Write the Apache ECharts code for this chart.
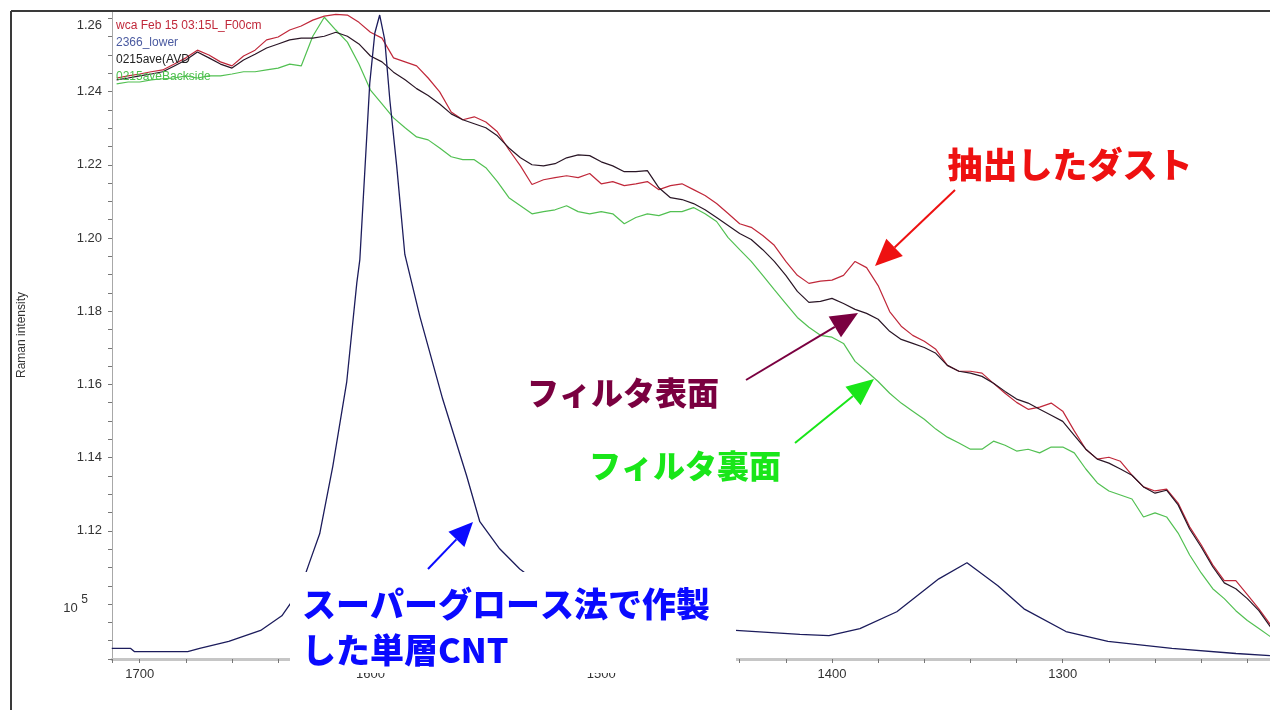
<!DOCTYPE html>
<html>
<head>
<meta charset="utf-8">
<script src="https://cdn.jsdelivr.net/npm/echarts@6/dist/echarts.min.js"></script>
<style>
  html, body { margin: 0; padding: 0; background: #fff; }
  #main { width: 1270px; height: 710px; }
</style>
</head>
<body>
<div id="main"></div>
<script>
// Raman spectra, x = Raman shift (cm-1)
var wavenumber = [
  1710,1705,1700,1695,1690,1685,1680,1675,1670,1665,
  1660,1655,1650,1645,1640,1635,1630,1625,1620,1615,
  1610,1605,1600,1595,1590,1585,1580,1575,1570,1565,
  1560,1555,1550,1545,1540,1535,1530,1525,1520,1515,
  1510,1505,1500,1495,1490,1485,1480,1475,1470,1465,
  1460,1455,1450,1445,1440,1435,1430,1425,1420,1415,
  1410,1405,1400,1395,1390,1385,1380,1375,1370,1365,
  1360,1355,1350,1345,1340,1335,1330,1325,1320,1315,
  1310,1305,1300,1295,1290,1285,1280,1275,1270,1265,
  1260,1255,1250,1245,1240,1235,1230,1225,1220,1215,
  1210
];
// 抽出したダスト (red)
var dust = [
  1.2437,1.2443,1.2448,1.2454,1.2459,1.2475,1.2492,1.2513,1.2500,1.2481,
  1.2470,1.2497,1.2513,1.2541,1.2549,1.2568,1.2579,1.2595,1.2606,1.2611,
  1.2609,1.2589,1.2562,1.2546,1.2492,1.2481,1.2470,1.2437,1.2399,1.2344,
  1.2323,1.2331,1.2317,1.2290,1.2241,1.2197,1.2146,1.2159,1.2165,1.2170,
  1.2165,1.2176,1.2148,1.2154,1.2143,1.2148,1.2154,1.2132,1.2143,1.2148,
  1.2132,1.2116,1.2094,1.2067,1.2039,1.2029,1.2007,1.1980,1.1936,1.1898,
  1.1876,1.1882,1.1885,1.1898,1.1936,1.1919,1.1870,1.1799,1.1759,1.1734,
  1.1718,1.1696,1.1652,1.1636,1.1636,1.1631,1.1603,1.1576,1.1551,1.1532,
  1.1538,1.1549,1.1527,1.1473,1.1423,1.1396,1.1401,1.1390,1.1352,1.1320,
  1.1309,1.1314,1.1276,1.1211,1.1162,1.1107,1.1064,1.1064,1.1026,1.0987,
  1.0944
];
// フィルタ表面 (black)
var front = [
  1.2432,1.2437,1.2443,1.2448,1.2454,1.2470,1.2486,1.2508,1.2492,1.2475,
  1.2464,1.2486,1.2502,1.2519,1.2530,1.2541,1.2546,1.2546,1.2551,1.2562,
  1.2551,1.2530,1.2497,1.2481,1.2453,1.2432,1.2408,1.2389,1.2366,1.2339,
  1.2323,1.2312,1.2301,1.2279,1.2246,1.2219,1.2200,1.2197,1.2203,1.2219,
  1.2227,1.2225,1.2208,1.2197,1.2181,1.2181,1.2184,1.2137,1.2110,1.2105,
  1.2094,1.2077,1.2056,1.2034,1.2012,1.1996,1.1968,1.1936,1.1898,1.1854,
  1.1824,1.1827,1.1835,1.1821,1.1805,1.1794,1.1778,1.1745,1.1723,1.1712,
  1.1701,1.1685,1.1652,1.1636,1.1631,1.1622,1.1603,1.1581,1.1560,1.1549,
  1.1532,1.1516,1.1499,1.1461,1.1423,1.1396,1.1385,1.1369,1.1352,1.1320,
  1.1303,1.1311,1.1271,1.1205,1.1156,1.1102,1.1058,1.1042,1.1015,1.0982,
  1.0938
];
// フィルタ裏面 (green)
var back = [
  1.2421,1.2426,1.2426,1.2432,1.2435,1.2437,1.2443,1.2437,1.2443,1.2443,
  1.2448,1.2454,1.2454,1.2459,1.2464,1.2475,1.2470,1.2551,1.2603,1.2568,
  1.2535,1.2475,1.2404,1.2366,1.2328,1.2301,1.2276,1.2268,1.2246,1.2222,
  1.2214,1.2214,1.2192,1.2154,1.2110,1.2088,1.2066,1.2072,1.2077,1.2088,
  1.2072,1.2066,1.2072,1.2066,1.2039,1.2056,1.2066,1.2061,1.2072,1.2072,
  1.2083,1.2066,1.2045,1.2001,1.1968,1.1936,1.1898,1.1859,1.1821,1.1783,
  1.1756,1.1734,1.1729,1.1712,1.1663,1.1636,1.1608,1.1576,1.1549,1.1527,
  1.1505,1.1478,1.1456,1.1440,1.1423,1.1423,1.1445,1.1434,1.1418,1.1423,
  1.1413,1.1429,1.1429,1.1413,1.1369,1.1331,1.1309,1.1298,1.1287,1.1238,
  1.1249,1.1238,1.1194,1.1134,1.1085,1.1042,1.1015,1.0982,1.0955,1.0933,
  1.0911
];
// スーパーグロース単層CNT (navy)
var cntWavenumber = [1712.1,1703.9,1702.2,1679.2,1674.0,1661.4,1647.6,1638.4,1633.2,1628.9,
  1626.3,1622.0,1616.3,1610.3,1605.9,1604.6,1600.3,1598.1,1596.0,1593.8,
  1591.6,1588.6,1585.1,1578.6,1568.7,1558.3,1552.6,1544.0,1535.3,1518.1,
  1492.1,1466.0,1441.7,1413.9,1401.3,1387.9,1371.9,1353.7,1341.5,1328.1,
  1316.8,1298.6,1280.4,1252.7,1224.9,1210.2];
var cntIntensity = [1.0879,1.0879,1.0870,1.0870,1.0879,1.0898,1.0928,1.0968,1.1015,1.1069,
  1.1116,1.1192,1.1377,1.1606,1.1878,1.1941,1.2423,1.2560,1.2609,1.2541,
  1.2377,1.2195,1.1955,1.1786,1.1560,1.1350,1.1225,1.1151,1.1096,1.1015,
  1.0960,1.0933,1.0928,1.0917,1.0914,1.0933,1.0979,1.1069,1.1113,1.1050,
  1.0987,1.0925,1.0898,1.0879,1.0865,1.0859];

var legendNames = ['wca Feb 15 03:15L_F00cm', '2366_lower', '0215ave(AVD', '0215aveBackside'];
var legendColors = ['#c0283a', '#4a5aa0', '#222222', '#4cc04c'];

function zip(xs, ys) {
  return xs.map(function (x, i) { return [x, ys[i]]; });
}

// arrow = line + filled head
function arrow(x1, y1, x2, y2, color, hl, hw, lw) {
  var dx = x2 - x1, dy = y2 - y1, len = Math.sqrt(dx * dx + dy * dy);
  var ux = dx / len, uy = dy / len;
  var bx = x2 - ux * hl, by = y2 - uy * hl;
  return [
    { type: 'line', z: 60, shape: { x1: x1, y1: y1, x2: bx, y2: by }, style: { stroke: color, lineWidth: lw } },
    { type: 'polygon', z: 60, shape: { points: [[x2, y2], [bx - uy * hw / 2, by + ux * hw / 2], [bx + uy * hw / 2, by - ux * hw / 2]] }, style: { fill: color } }
  ];
}

var dom = document.getElementById('main');
var myChart = echarts.init(dom);

var jp = '"Noto Sans CJK JP", sans-serif';
var graphics = [
  { type: 'line', z: 70, shape: { x1: 11, y1: 11, x2: 1270, y2: 11 }, style: { stroke: '#3a3a3a', lineWidth: 2 } },
  { type: 'line', z: 70, shape: { x1: 11, y1: 11, x2: 11, y2: 710 }, style: { stroke: '#3a3a3a', lineWidth: 2 } },
  { type: 'rect', z: 50, shape: { x: 290, y: 572, width: 446, height: 101 }, style: { fill: '#ffffff' } },
  { type: 'text', z: 60, x: 1070, y: 165, style: { text: '抽出したダスト', font: '900 35px ' + jp, fill: '#ee1111', align: 'center', verticalAlign: 'middle' } },
  { type: 'text', z: 60, x: 623, y: 393, style: { text: 'フィルタ表面', font: '900 32px ' + jp, fill: '#7a0040', align: 'center', verticalAlign: 'middle' } },
  { type: 'text', z: 60, x: 685, y: 466, style: { text: 'フィルタ裏面', font: '900 32px ' + jp, fill: '#19e619', align: 'center', verticalAlign: 'middle' } },
  { type: 'text', z: 60, x: 302, y: 604, style: { text: 'スーパーグロース法で作製', font: '900 34px ' + jp, fill: '#0a0aff', align: 'left', verticalAlign: 'middle' } },
  { type: 'text', z: 60, x: 302, y: 650, style: { text: 'した単層CNT', font: '900 34px ' + jp, fill: '#0a0aff', align: 'left', verticalAlign: 'middle' } }
];
graphics = graphics
  .concat(arrow(955, 190, 875, 266, '#ee1111', 27, 24, 2))
  .concat(arrow(746, 380, 858, 313, '#7a0040', 27, 24, 2))
  .concat(arrow(795, 443, 874, 379, '#19e619', 27, 24, 2))
  .concat(arrow(428, 569, 473, 522, '#0a0aff', 24, 22, 2));
legendNames.forEach(function (name, i) {
  graphics.push({ type: 'text', z: 40, x: 116, y: 26 + i * 17, style: { text: name, font: '12px "Liberation Sans", Arial', fill: legendColors[i], verticalAlign: 'middle' } });
});

option = {
  backgroundColor: '#ffffff',
  animation: false,
  grid: { left: 112, right: -23.5, top: 11, bottom: 51, outerBoundsMode: 'none', containLabel: false },
  xAxis: {
    type: 'value',
    inverse: true,
    min: 1200,
    max: 1712,
    interval: 20,
    axisLine: { lineStyle: { color: '#c6c6c6', width: 3 } },
    axisTick: { length: 4, lineStyle: { color: '#777' } },
    splitLine: { show: false },
    axisLabel: {
      margin: 9,
      color: '#333',
      fontSize: 13,
      fontFamily: 'Liberation Sans',
      formatter: function (v) { return Math.round(v) % 100 === 0 ? String(Math.round(v)) : ''; }
    }
  },
  yAxis: {
    type: 'value',
    min: 1.085,
    max: 1.262,
    interval: 0.005,
    name: 'Raman intensity',
    nameLocation: 'middle',
    nameRotate: 90,
    nameGap: 84,
    nameTextStyle: { color: '#333', fontSize: 12, fontFamily: 'Liberation Sans' },
    axisLine: { show: true, lineStyle: { color: '#a8a8a8', width: 1 } },
    axisTick: { length: 4, lineStyle: { color: '#777' } },
    splitLine: { show: false },
    axisLabel: {
      margin: 10,
      color: '#333',
      fontSize: 13,
      fontFamily: 'Liberation Sans',
      formatter: function (v) {
        var r = Math.round(v * 1000);
        if (r % 20 !== 0) return '';
        if (r === 1100) return '{a|10 }{b|5}{s| }';
        if (r === 1260) return '{t|1.26}';
        return (r / 1000).toFixed(2);
      },
      rich: {
        a: { fontSize: 13, color: '#333', fontFamily: 'Liberation Sans', padding: [8, 0, 0, 0] },
        b: { fontSize: 12, color: '#333', fontFamily: 'Liberation Sans', padding: [0, 0, 8, 0] },
        s: { fontSize: 13, width: 14 },
        t: { fontSize: 13, color: '#333', fontFamily: 'Liberation Sans', padding: [15, 0, 0, 0] }
      }
    }
  },
  series: [
    { name: legendNames[3], type: 'line', showSymbol: false, data: zip(wavenumber, back), lineStyle: { color: '#52c052', width: 1.2 }, z: 2 },
    { name: legendNames[0], type: 'line', showSymbol: false, data: zip(wavenumber, dust), lineStyle: { color: '#c0283a', width: 1.2 }, z: 3 },
    { name: legendNames[2], type: 'line', showSymbol: false, data: zip(wavenumber, front), lineStyle: { color: '#2a1626', width: 1.2 }, z: 4 },
    { name: legendNames[1], type: 'line', showSymbol: false, data: zip(cntWavenumber, cntIntensity), lineStyle: { color: '#1c1c5c', width: 1.3 }, z: 5 }
  ],
  graphic: graphics
};

myChart.setOption(option, true);
</script>
</body>
</html>
